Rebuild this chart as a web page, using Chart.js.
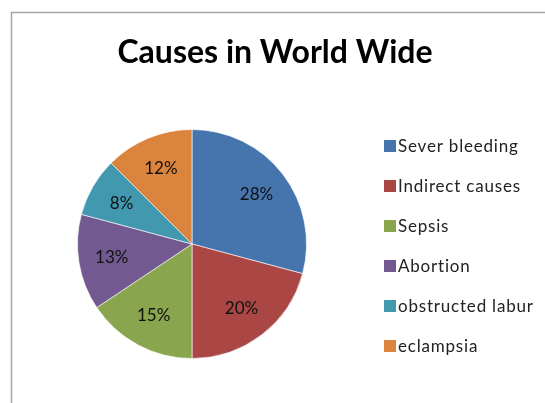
<!DOCTYPE html>
<html>
<head>
<meta charset="utf-8">
<script src="https://cdn.jsdelivr.net/npm/chart.js@4.4.1/dist/chart.umd.min.js"></script>
<style>
  html, body { margin: 0; padding: 0; background: #fff; }
  #wrap { width: 545px; height: 403px; }
</style>
</head>
<body>
<div id="wrap"><canvas id="myChart" width="545" height="403"></canvas></div>
<script>
var chartTitle = "Causes in World Wide";
var causes = ["Sever bleeding", "Indirect causes", "Sepsis", "Abortion", "obstructed labur", "eclampsia"];
var shares = [28, 20, 15, 13, 8, 12];
var sliceColors = ["#4674AC", "#AA4644", "#89A54E", "#72598F", "#4298AF", "#DB843D"];

// frame, title, percent labels and legend drawn by hand
var extras = {
  id: "extras",
  beforeDraw: function (chart) {
    var c = chart.ctx;
    c.save();
    c.strokeStyle = "#a6a6a6";
    c.lineWidth = 1.5;
    c.beginPath();
    c.moveTo(11.5, 410);
    c.lineTo(11.5, 12.5);
    c.lineTo(550, 12.5);
    c.stroke();
    c.restore();
  },
  afterDraw: function (chart) {
    var c = chart.ctx;
    c.save();
    c.fillStyle = "#000";
    c.font = "bold 32px Lato";
    c.textAlign = "center";
    c.textBaseline = "middle";
    c.fillText(chartTitle, 275, 53);

    // percent labels
    var meta = chart.getDatasetMeta(0);
    c.font = "17px Lato";
    c.fillStyle = "#111";
    meta.data.forEach(function (arc, i) {
      var mid = (arc.startAngle + arc.endAngle) / 2;
      var r = arc.outerRadius * 0.71;
      var x = arc.x + Math.cos(mid) * r;
      var y = arc.y + Math.sin(mid) * r;
      c.fillText(shares[i] + "%", x, y);
    });

    // legend
    c.textAlign = "left";
    c.font = "17px Lato";
    c.letterSpacing = "0.8px";
    for (var i = 0; i < causes.length; i++) {
      var y = 146 + i * 40;
      c.fillStyle = sliceColors[i];
      c.fillRect(384, y - 6, 12, 12);
      c.fillStyle = "#222";
      c.fillText(causes[i], 398, y + 1);
    }
    c.restore();
  }
};

const ctx = document.getElementById("myChart");
const myChart = new Chart(ctx, {
  type: "pie",
  data: {
    labels: causes,
    datasets: [{
      data: shares,
      backgroundColor: sliceColors,
      borderColor: "rgba(255,255,255,0.6)",
      borderWidth: 1
    }]
  },
  options: {
    responsive: false,
    animation: false,
    layout: {
      padding: { left: 77, right: 238, top: 127, bottom: 42 }
    },
    plugins: {
      legend: { display: false },
      title: { display: false },
      tooltip: { enabled: false }
    }
  },
  plugins: [extras]
});
</script>
</body>
</html>
